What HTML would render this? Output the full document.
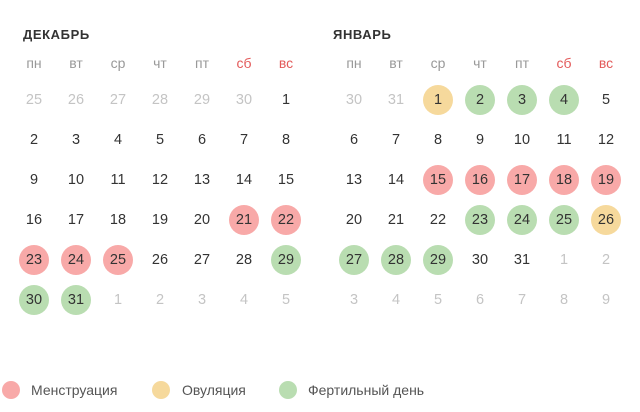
<!DOCTYPE html>
<html><head><meta charset="utf-8"><style>
*{margin:0;padding:0;box-sizing:border-box}
body{width:640px;height:412px;background:#fff;position:relative;overflow:hidden;font-family:"Liberation Sans","Noto Sans CJK SC",sans-serif}
.t{position:absolute;font-weight:bold;font-size:13px;color:#333;letter-spacing:0.6px;top:27px}
.h{position:absolute;width:30px;text-align:center;font-size:14px;color:#999;top:55px;line-height:16px}
.h.w{color:#e35a5a}
.c{position:absolute;width:30px;height:30px;line-height:30px;text-align:center;font-size:14.5px;color:#333;border-radius:50%}
.g{color:#c4c4c4}
.p{background:#f8a9a8}
.y{background:#f6d99c}
.f{background:#b9ddb1}
.lg{position:absolute;top:381px;width:18px;height:18px;border-radius:50%}
.lt{position:absolute;top:381px;font-size:14px;color:#555;line-height:18px}
</style></head><body>
<div class="t" style="left:23px">ДЕКАБРЬ</div>
<div class="t" style="left:333px">ЯНВАРЬ</div>

<div class="h" style="left:19px">пн</div><div class="h" style="left:61px">вт</div><div class="h" style="left:103px">ср</div><div class="h" style="left:145px">чт</div><div class="h" style="left:187px">пт</div><div class="h w" style="left:229px">сб</div><div class="h w" style="left:271px">вс</div>
<div class="h" style="left:339px">пн</div><div class="h" style="left:381px">вт</div><div class="h" style="left:423px">ср</div><div class="h" style="left:465px">чт</div><div class="h" style="left:507px">пт</div><div class="h w" style="left:549px">сб</div><div class="h w" style="left:591px">вс</div>

<!-- December -->
<div class="c g" style="left:19px;top:85px">25</div><div class="c g" style="left:61px;top:85px">26</div><div class="c g" style="left:103px;top:85px">27</div><div class="c g" style="left:145px;top:85px">28</div><div class="c g" style="left:187px;top:85px">29</div><div class="c g" style="left:229px;top:85px">30</div><div class="c" style="left:271px;top:85px">1</div>
<div class="c" style="left:19px;top:125px">2</div><div class="c" style="left:61px;top:125px">3</div><div class="c" style="left:103px;top:125px">4</div><div class="c" style="left:145px;top:125px">5</div><div class="c" style="left:187px;top:125px">6</div><div class="c" style="left:229px;top:125px">7</div><div class="c" style="left:271px;top:125px">8</div>
<div class="c" style="left:19px;top:165px">9</div><div class="c" style="left:61px;top:165px">10</div><div class="c" style="left:103px;top:165px">11</div><div class="c" style="left:145px;top:165px">12</div><div class="c" style="left:187px;top:165px">13</div><div class="c" style="left:229px;top:165px">14</div><div class="c" style="left:271px;top:165px">15</div>
<div class="c" style="left:19px;top:205px">16</div><div class="c" style="left:61px;top:205px">17</div><div class="c" style="left:103px;top:205px">18</div><div class="c" style="left:145px;top:205px">19</div><div class="c" style="left:187px;top:205px">20</div><div class="c p" style="left:229px;top:205px">21</div><div class="c p" style="left:271px;top:205px">22</div>
<div class="c p" style="left:19px;top:245px">23</div><div class="c p" style="left:61px;top:245px">24</div><div class="c p" style="left:103px;top:245px">25</div><div class="c" style="left:145px;top:245px">26</div><div class="c" style="left:187px;top:245px">27</div><div class="c" style="left:229px;top:245px">28</div><div class="c f" style="left:271px;top:245px">29</div>
<div class="c f" style="left:19px;top:285px">30</div><div class="c f" style="left:61px;top:285px">31</div><div class="c g" style="left:103px;top:285px">1</div><div class="c g" style="left:145px;top:285px">2</div><div class="c g" style="left:187px;top:285px">3</div><div class="c g" style="left:229px;top:285px">4</div><div class="c g" style="left:271px;top:285px">5</div>

<!-- January -->
<div class="c g" style="left:339px;top:85px">30</div><div class="c g" style="left:381px;top:85px">31</div><div class="c y" style="left:423px;top:85px">1</div><div class="c f" style="left:465px;top:85px">2</div><div class="c f" style="left:507px;top:85px">3</div><div class="c f" style="left:549px;top:85px">4</div><div class="c" style="left:591px;top:85px">5</div>
<div class="c" style="left:339px;top:125px">6</div><div class="c" style="left:381px;top:125px">7</div><div class="c" style="left:423px;top:125px">8</div><div class="c" style="left:465px;top:125px">9</div><div class="c" style="left:507px;top:125px">10</div><div class="c" style="left:549px;top:125px">11</div><div class="c" style="left:591px;top:125px">12</div>
<div class="c" style="left:339px;top:165px">13</div><div class="c" style="left:381px;top:165px">14</div><div class="c p" style="left:423px;top:165px">15</div><div class="c p" style="left:465px;top:165px">16</div><div class="c p" style="left:507px;top:165px">17</div><div class="c p" style="left:549px;top:165px">18</div><div class="c p" style="left:591px;top:165px">19</div>
<div class="c" style="left:339px;top:205px">20</div><div class="c" style="left:381px;top:205px">21</div><div class="c" style="left:423px;top:205px">22</div><div class="c f" style="left:465px;top:205px">23</div><div class="c f" style="left:507px;top:205px">24</div><div class="c f" style="left:549px;top:205px">25</div><div class="c y" style="left:591px;top:205px">26</div>
<div class="c f" style="left:339px;top:245px">27</div><div class="c f" style="left:381px;top:245px">28</div><div class="c f" style="left:423px;top:245px">29</div><div class="c" style="left:465px;top:245px">30</div><div class="c" style="left:507px;top:245px">31</div><div class="c g" style="left:549px;top:245px">1</div><div class="c g" style="left:591px;top:245px">2</div>
<div class="c g" style="left:339px;top:285px">3</div><div class="c g" style="left:381px;top:285px">4</div><div class="c g" style="left:423px;top:285px">5</div><div class="c g" style="left:465px;top:285px">6</div><div class="c g" style="left:507px;top:285px">7</div><div class="c g" style="left:549px;top:285px">8</div><div class="c g" style="left:591px;top:285px">9</div>

<!-- Legend -->
<div class="lg p" style="left:2px"></div><div class="lt" style="left:31px">Менструация</div>
<div class="lg y" style="left:152px"></div><div class="lt" style="left:182px">Овуляция</div>
<div class="lg f" style="left:279px"></div><div class="lt" style="left:308px">Фертильный день</div>
</body></html>
